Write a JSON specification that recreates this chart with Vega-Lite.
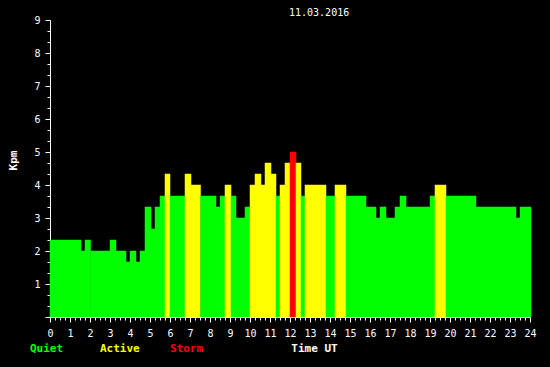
{
  "$schema": "https://vega.github.io/schema/vega-lite/v6.json",
  "width": 480,
  "height": 297,
  "autosize": {"type": "none"},
  "padding": {"left": 50, "top": 20, "right": 20, "bottom": 50},
  "background": "black",
  "title": {"text": "11.03.2016", "anchor": "start", "frame": "group", "dx": 239, "offset": -11, "baseline": "alphabetic", "font": "DejaVu Sans Mono", "fontSize": 10, "fontWeight": "normal", "color": "white"},
  "data": {"values": [
    {"s": 0, "e": 1.55, "kp": 2.333, "st": "Quiet"},
    {"s": 1.55, "e": 1.75, "kp": 2.0, "st": "Quiet"},
    {"s": 1.75, "e": 2.03, "kp": 2.333, "st": "Quiet"},
    {"s": 2.03, "e": 3.0, "kp": 2.0, "st": "Quiet"},
    {"s": 3.0, "e": 3.3, "kp": 2.333, "st": "Quiet"},
    {"s": 3.3, "e": 3.8, "kp": 2.0, "st": "Quiet"},
    {"s": 3.8, "e": 4.0, "kp": 1.667, "st": "Quiet"},
    {"s": 4.0, "e": 4.3, "kp": 2.0, "st": "Quiet"},
    {"s": 4.3, "e": 4.5, "kp": 1.667, "st": "Quiet"},
    {"s": 4.5, "e": 4.75, "kp": 2.0, "st": "Quiet"},
    {"s": 4.75, "e": 5.05, "kp": 3.333, "st": "Quiet"},
    {"s": 5.05, "e": 5.25, "kp": 2.667, "st": "Quiet"},
    {"s": 5.25, "e": 5.5, "kp": 3.333, "st": "Quiet"},
    {"s": 5.5, "e": 5.75, "kp": 3.667, "st": "Quiet"},
    {"s": 5.75, "e": 6.0, "kp": 4.333, "st": "Active"},
    {"s": 6.0, "e": 6.75, "kp": 3.667, "st": "Quiet"},
    {"s": 6.75, "e": 7.05, "kp": 4.333, "st": "Active"},
    {"s": 7.05, "e": 7.53, "kp": 4.0, "st": "Active"},
    {"s": 7.53, "e": 8.3, "kp": 3.667, "st": "Quiet"},
    {"s": 8.3, "e": 8.5, "kp": 3.333, "st": "Quiet"},
    {"s": 8.5, "e": 8.75, "kp": 3.667, "st": "Quiet"},
    {"s": 8.75, "e": 9.05, "kp": 4.0, "st": "Active"},
    {"s": 9.05, "e": 9.3, "kp": 3.667, "st": "Quiet"},
    {"s": 9.3, "e": 9.75, "kp": 3.0, "st": "Quiet"},
    {"s": 9.75, "e": 10.0, "kp": 3.333, "st": "Quiet"},
    {"s": 10.0, "e": 10.25, "kp": 4.0, "st": "Active"},
    {"s": 10.25, "e": 10.55, "kp": 4.333, "st": "Active"},
    {"s": 10.55, "e": 10.75, "kp": 4.0, "st": "Active"},
    {"s": 10.75, "e": 11.05, "kp": 4.667, "st": "Active"},
    {"s": 11.05, "e": 11.3, "kp": 4.333, "st": "Active"},
    {"s": 11.3, "e": 11.5, "kp": 3.667, "st": "Quiet"},
    {"s": 11.5, "e": 11.75, "kp": 4.0, "st": "Active"},
    {"s": 11.75, "e": 12.0, "kp": 4.667, "st": "Active"},
    {"s": 12.0, "e": 12.3, "kp": 5.0, "st": "Storm"},
    {"s": 12.3, "e": 12.55, "kp": 4.667, "st": "Active"},
    {"s": 12.55, "e": 12.75, "kp": 3.667, "st": "Quiet"},
    {"s": 12.75, "e": 13.8, "kp": 4.0, "st": "Active"},
    {"s": 13.8, "e": 14.25, "kp": 3.667, "st": "Quiet"},
    {"s": 14.25, "e": 14.8, "kp": 4.0, "st": "Active"},
    {"s": 14.8, "e": 15.8, "kp": 3.667, "st": "Quiet"},
    {"s": 15.8, "e": 16.3, "kp": 3.333, "st": "Quiet"},
    {"s": 16.3, "e": 16.5, "kp": 3.0, "st": "Quiet"},
    {"s": 16.5, "e": 16.8, "kp": 3.333, "st": "Quiet"},
    {"s": 16.8, "e": 17.25, "kp": 3.0, "st": "Quiet"},
    {"s": 17.25, "e": 17.5, "kp": 3.333, "st": "Quiet"},
    {"s": 17.5, "e": 17.8, "kp": 3.667, "st": "Quiet"},
    {"s": 17.8, "e": 19.0, "kp": 3.333, "st": "Quiet"},
    {"s": 19.0, "e": 19.25, "kp": 3.667, "st": "Quiet"},
    {"s": 19.25, "e": 19.8, "kp": 4.0, "st": "Active"},
    {"s": 19.8, "e": 21.3, "kp": 3.667, "st": "Quiet"},
    {"s": 21.3, "e": 23.3, "kp": 3.333, "st": "Quiet"},
    {"s": 23.3, "e": 23.5, "kp": 3.0, "st": "Quiet"},
    {"s": 23.5, "e": 24.05, "kp": 3.333, "st": "Quiet"}
  ]},
  "mark": {"type": "rect", "clip": false, "strokeWidth": 0.5},
  "encoding": {
    "x": {
      "field": "s", "type": "quantitative",
      "scale": {"domain": [0, 24], "nice": false, "zero": false},
      "axis": {
        "values": [0,0.25,0.5,0.75,1,1.25,1.5,1.75,2,2.25,2.5,2.75,3,3.25,3.5,3.75,4,4.25,4.5,4.75,5,5.25,5.5,5.75,6,6.25,6.5,6.75,7,7.25,7.5,7.75,8,8.25,8.5,8.75,9,9.25,9.5,9.75,10,10.25,10.5,10.75,11,11.25,11.5,11.75,12,12.25,12.5,12.75,13,13.25,13.5,13.75,14,14.25,14.5,14.75,15,15.25,15.5,15.75,16,16.25,16.5,16.75,17,17.25,17.5,17.75,18,18.25,18.5,18.75,19,19.25,19.5,19.75,20,20.25,20.5,20.75,21,21.25,21.5,21.75,22,22.25,22.5,22.75,23,23.25,23.5,23.75,24],
        "labelExpr": "abs(datum.value - round(datum.value)) < 0.01 ? '' + round(datum.value) : ''",
        "tickSize": {"condition": {"test": "abs(datum.value - round(datum.value)) < 0.01", "value": 5}, "value": 3},
        "labelPadding": 6,
        "labelBaseline": "top",
        "labelOverlap": false,
        "labelFlush": false,
        "grid": false,
        "title": "Time UT",
        "titleX": 264,
        "titleY": 31,
        "titleAlign": "center",
        "titleBaseline": "middle",
        "titleFontWeight": "bold",
        "titleFontSize": 11
      }
    },
    "x2": {"field": "e"},
    "y": {
      "field": "kp", "type": "quantitative",
      "scale": {"domain": [0, 9], "nice": false},
      "axis": {
        "values": [0,0.3333,0.6667,1,1.3333,1.6667,2,2.3333,2.6667,3,3.3333,3.6667,4,4.3333,4.6667,5,5.3333,5.6667,6,6.3333,6.6667,7,7.3333,7.6667,8,8.3333,8.6667,9],
        "labelExpr": "datum.value > 0.5 && abs(datum.value - round(datum.value)) < 0.01 ? '' + round(datum.value) : ''",
        "tickSize": {"condition": {"test": "abs(datum.value - round(datum.value)) < 0.01", "value": 5}, "value": 3},
        "labelPadding": 5,
        "labelBaseline": "middle",
        "labelOverlap": false,
        "labelFlush": false,
        "grid": false,
        "title": "Kpm",
        "titleAngle": -90,
        "titleX": -37,
        "titleY": 140,
        "titleAlign": "center",
        "titleBaseline": "middle",
        "titleFontWeight": "bold",
        "titleFontSize": 11
      }
    },
    "y2": {"datum": 0},
    "color": {
      "field": "st", "type": "nominal",
      "scale": {"domain": ["Quiet", "Active", "Storm"], "range": ["#00ff00", "#ffff00", "#ff0000"]},
      "legend": {
        "orient": "none",
        "legendX": -31,
        "legendY": 323,
        "direction": "horizontal",
        "columns": 3,
        "gridAlign": "all",
        "columnPadding": 19,
        "symbolSize": 0,
        "symbolStrokeWidth": 0,
        "symbolOpacity": 0,
        "labelOffset": 0,
        "labelFont": "DejaVu Sans Mono",
        "labelFontSize": 11,
        "labelFontWeight": "bold",
        "title": null,
        "padding": 0,
        "encode": {"labels": {"update": {"fill": {"scale": "color", "field": "value"}}}}
      }
    },
    "stroke": {
      "field": "st", "type": "nominal",
      "scale": {"domain": ["Quiet", "Active", "Storm"], "range": ["#00ff00", "#ffff00", "#ff0000"]},
      "legend": null
    }
  },
  "config": {
    "view": {"stroke": null},
    "axis": {
      "domainColor": "white",
      "domainWidth": 1,
      "tickColor": "white",
      "tickWidth": 1,
      "labelColor": "white",
      "labelFont": "DejaVu Sans Mono",
      "labelFontSize": 10,
      "titleColor": "white",
      "titleFont": "DejaVu Sans Mono"
    }
  }
}
